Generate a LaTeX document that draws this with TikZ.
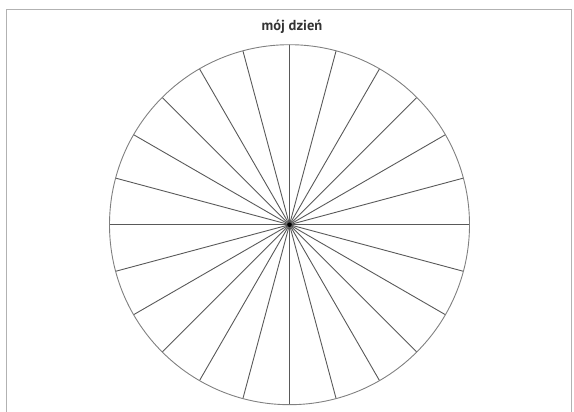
\documentclass[tikz,border=0pt]{standalone}
\usepackage{fontspec}
\setmainfont{PT Sans}
\usetikzlibrary{calc}
\begin{document}
\begin{tikzpicture}[x=1pt,y=-1pt,
  spoke/.style={draw=black!65,line width=0.9pt},
  rim/.style={draw=black!50,line width=0.9pt},
  frame/.style={draw=black!30,line width=1pt}]
\useasboundingbox (0,0) rectangle (574,412);
\begin{scope}
\clip (0,0) rectangle (574,412);
\draw[frame] (6.5,420) -- (6.5,9.5) -- (571,9.5) -- (571,420);
\end{scope}
\coordinate (c) at (289.5,224.7);
\node[font=\bfseries\fontsize{14.5}{16}\selectfont,text=black!80,anchor=base,inner sep=0pt] (title) at (292,30.3) {mój dzień};
\foreach \a in {0,15,...,345}{
  \coordinate (e\a) at ($(c)+(\a:180)$);
}
\foreach \a in {0,15,...,345}{
  \draw[spoke] (c) -- (e\a);
}
\draw[rim] (c) circle[radius=180];
\fill[black] (c) circle[radius=2.3];
\end{tikzpicture}
\end{document}
